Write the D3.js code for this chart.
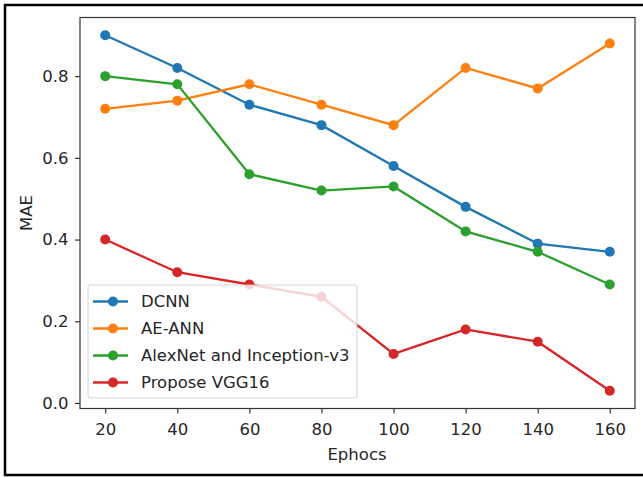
<!DOCTYPE html>
<html><head><meta charset="utf-8">
<script src="https://cdn.jsdelivr.net/npm/d3@7"></script>
<style>body{margin:0;background:#fff}svg{display:block}text{font-family:"DejaVu Sans",sans-serif;fill:#262626}</style>
</head><body>
<script>
const epochs = [20, 40, 60, 80, 100, 120, 140, 160];
const dcnn = [0.90, 0.82, 0.73, 0.68, 0.58, 0.48, 0.39, 0.37];
const aeAnn = [0.72, 0.74, 0.78, 0.73, 0.68, 0.82, 0.77, 0.88];
const alexInc = [0.80, 0.78, 0.56, 0.52, 0.53, 0.42, 0.37, 0.29];
const vgg16 = [0.40, 0.32, 0.29, 0.26, 0.12, 0.18, 0.15, 0.03];
const seriesNames = ["DCNN", "AE-ANN", "AlexNet and Inception-v3", "Propose VGG16"];
const colors = ["#1f77b4", "#ff7f0e", "#2ca02c", "#d62728"];
const xTicks = [20, 40, 60, 80, 100, 120, 140, 160];
const yTicks = [0.0, 0.2, 0.4, 0.6, 0.8];

const W = 643, H = 478, FS = 16.5;
const svg = d3.select("body").append("svg").attr("width", W).attr("height", H);
svg.append("rect").attr("width", W).attr("height", H).attr("fill", "#fff");

// outer frame
svg.append("path").attr("d", `M${W+2},5 L5,5 L5,475 L${W+2},475`)
  .attr("fill", "none").attr("stroke", "#000").attr("stroke-width", 2.5);

const L = 80, R = 635, T = 17.5, B = 408.5;
const x = d3.scaleLinear().domain([13, 167]).range([L, R]);
const y = d3.scaleLinear().domain([-0.0135, 0.9435]).range([B, T]);

const all = [dcnn, aeAnn, alexInc, vgg16];
const line = d3.line().x((d, i) => x(epochs[i])).y(d => y(d));
const g = svg.append("g");
all.forEach((s, k) => {
  g.append("path").datum(s).attr("d", line).attr("fill", "none")
    .attr("stroke", colors[k]).attr("stroke-width", 2.3);
  g.selectAll(null).data(s).enter().append("circle")
    .attr("cx", (d, i) => x(epochs[i])).attr("cy", d => y(d))
    .attr("r", 5).attr("fill", colors[k]);
});

// axes
const xa = svg.append("g").attr("transform", `translate(0,${B})`)
  .call(d3.axisBottom(x).tickValues(xTicks).tickSize(5).tickPadding(5).tickFormat(d3.format("d")));
const ya = svg.append("g").attr("transform", `translate(${L},0)`)
  .call(d3.axisLeft(y).tickValues(yTicks).tickSize(5).tickPadding(6.5).tickFormat(d3.format(".1f")));
[xa, ya].forEach(a => {
  a.select(".domain").remove();
  a.selectAll("line").attr("stroke", "#333").attr("stroke-width", 1.2);
  a.selectAll("text").attr("font-size", FS).attr("fill", "#262626")
    .style("font-family", '"DejaVu Sans",sans-serif');
});
xa.selectAll("text").attr("dy", null).attr("y", 26.5);
svg.append("rect").attr("x", L).attr("y", T).attr("width", R - L).attr("height", B - T)
  .attr("fill", "none").attr("stroke", "#333").attr("stroke-width", 1.2);

svg.append("text").attr("x", 357).attr("y", 460).attr("text-anchor", "middle")
  .attr("font-size", FS).text("Ephocs");
svg.append("text").attr("transform", `translate(32,${(T + B) / 2}) rotate(-90)`)
  .attr("text-anchor", "middle").attr("font-size", FS).text("MAE");

// legend
const lg = svg.append("g");
lg.append("rect").attr("x", 88).attr("y", 285).attr("width", 269).attr("height", 113)
  .attr("rx", 3).attr("fill", "#fff").attr("fill-opacity", 0.8)
  .attr("stroke", "#ccc").attr("stroke-opacity", 0.8).attr("stroke-width", 1.1);
seriesNames.forEach((n, k) => {
  const yy = 301.5 + k * 27;
  lg.append("line").attr("x1", 93).attr("x2", 128).attr("y1", yy).attr("y2", yy)
    .attr("stroke", colors[k]).attr("stroke-width", 2.3);
  lg.append("circle").attr("cx", 113).attr("cy", yy).attr("r", 5).attr("fill", colors[k]);
  lg.append("text").attr("x", 141).attr("y", yy + 5.5).attr("font-size", FS).text(n);
});
</script>
</body></html>
